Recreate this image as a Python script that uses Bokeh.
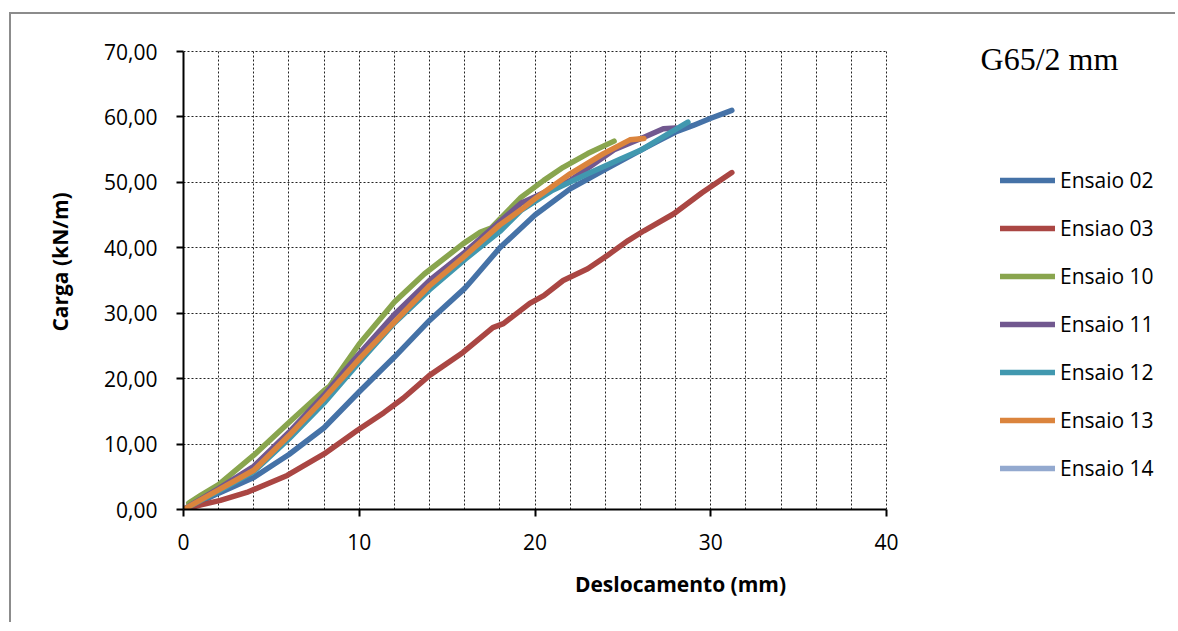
from bokeh.plotting import figure
from bokeh.models import Range1d, FixedTicker, Legend, LegendItem, Label, Grid
from bokeh.embed import file_html
from bokeh.resources import INLINE

# ---- data ----
series_names = ["Ensaio 02", "Ensiao 03", "Ensaio 10", "Ensaio 11", "Ensaio 12", "Ensaio 13", "Ensaio 14"]

ens02_x = [0, 1, 2, 4, 6, 8, 10, 12, 14, 16, 16.4, 18, 20, 22, 24, 26, 27, 28, 29, 30, 31.2]
ens02_y = [0, 1.2, 2.5, 4.9, 8.4, 12.5, 18.0, 23.3, 28.9, 33.8, 35.0, 40.0, 45.0, 49.0, 52.0, 54.9, 56.3, 57.7, 58.7, 59.8, 61.0]

ens03_x = [0, 1, 2.1, 3.6, 5.9, 8, 9.9, 11.4, 12.5, 14, 15.9, 17.6, 18.2, 19.7, 20.5, 21.6, 23, 24.1, 25.3, 26.2, 27.9, 29.5, 31.2]
ens03_y = [0, 0.7, 1.4, 2.6, 5.2, 8.5, 12.1, 14.8, 17.0, 20.5, 24.0, 27.8, 28.4, 31.5, 32.7, 35.0, 36.8, 38.8, 41.1, 42.6, 45.2, 48.4, 51.5]

ens10_x = [0.3, 1, 2, 4, 6, 8, 8.3, 10, 12, 13.7, 15.9, 16.9, 17.5, 19.2, 20.5, 21.6, 23, 24.5]
ens10_y = [1.0, 2.2, 3.8, 8.3, 13.3, 18.2, 18.8, 25.3, 31.7, 36.0, 40.6, 42.4, 43.0, 47.7, 50.3, 52.3, 54.4, 56.3]

ens11_x = [0, 2, 4, 6, 8, 10, 12, 14, 16, 18, 19.2, 22, 24.5, 26.2, 27.3, 28]
ens11_y = [0, 3.2, 6.6, 11.8, 17.5, 23.8, 29.8, 35.0, 39.3, 44.0, 46.8, 50.3, 55.0, 56.9, 58.2, 58.3]

ens12_x = [0, 2, 4, 6, 8, 10, 12, 14, 16, 18, 19.2, 21, 23, 24.9, 26, 27, 28.7]
ens12_y = [0, 2.8, 5.8, 10.8, 16.3, 22.5, 28.5, 33.6, 38.2, 42.5, 45.7, 48.8, 51.3, 53.6, 54.9, 56.5, 59.2]

ens13_x = [0, 2, 4, 6, 8, 10.1, 12.2, 14, 15.9, 18, 19.2, 20.1, 22, 23.9, 25.4, 26.2]
ens13_y = [0, 3.0, 6.0, 11.3, 17.0, 23.3, 29.2, 34.2, 38.5, 43.5, 45.8, 47.7, 51.3, 54.4, 56.5, 56.7]

# Ensaio 14 shows only in the legend (no visible curve in the reference)
ens14_x = [float("nan")]
ens14_y = [float("nan")]

x_ticks = [0, 10, 20, 30, 40]
y_ticks = [0, 10, 20, 30, 40, 50, 60, 70]
y_tick_labels = ["0,00", "10,00", "20,00", "30,00", "40,00", "50,00", "60,00", "70,00"]
x_grid_ticks = list(range(2, 41, 2))
x_limits = (0, 40)
y_limits = (0, 70)

colors = ["#4572A7", "#AA4643", "#89A54E", "#71588F", "#4198AF", "#DB843D", "#93A9CF"]

xs = [ens02_x, ens03_x, ens10_x, ens11_x, ens12_x, ens13_x, ens14_x]
ys = [ens02_y, ens03_y, ens10_y, ens11_y, ens12_y, ens13_y, ens14_y]

FONT = "Open Sans"

W, H = 1166, 610
LB, BB = 172, 115                      # left / bottom borders (px)
px_per_x = 703 / 40.0
px_per_y = 458 / 70.0
x_max = (W - LB) / px_per_x            # frame continues to the right edge (legend area)
y_max = (H - BB) / px_per_y            # frame continues to the top (title area)

p = figure(width=W, height=H, output_backend="svg", toolbar_location=None,
           x_range=Range1d(0, x_max), y_range=Range1d(0, y_max),
           min_border_left=LB, min_border_right=0, min_border_top=0, min_border_bottom=BB)
p.margin = (12, 0, 0, 9)
p.styles = {"border-top": "2px solid #8c8c8c", "border-left": "2px solid #8c8c8c"}
p.outline_line_color = None
p.background_fill_color = "white"
p.border_fill_color = "white"

# grid
p.xgrid.ticker = FixedTicker(ticks=x_grid_ticks)
p.ygrid.ticker = FixedTicker(ticks=y_ticks)
p.xgrid.bounds = x_limits
p.ygrid.bounds = y_limits
has_cross = "cross_bounds" in Grid.properties()
if has_cross:
    p.xgrid.cross_bounds = y_limits
    p.ygrid.cross_bounds = x_limits
for g in (p.xgrid, p.ygrid):
    g.grid_line_color = "#222222"
    g.grid_line_dash = "2 2"
    g.grid_line_width = 1
if not has_cross:
    for g in (p.xgrid, p.ygrid):
        g.grid_line_color = None
    p.segment(x0=x_grid_ticks, x1=x_grid_ticks, y0=[y_limits[0]] * len(x_grid_ticks),
              y1=[y_limits[1]] * len(x_grid_ticks), line_color="#222222", line_dash="2 2", line_width=1)
    p.segment(x0=[x_limits[0]] * len(y_ticks), x1=[x_limits[1]] * len(y_ticks), y0=y_ticks,
              y1=y_ticks, line_color="#222222", line_dash="2 2", line_width=1)

# axes
p.xaxis.ticker = FixedTicker(ticks=x_ticks)
p.yaxis.ticker = FixedTicker(ticks=y_ticks)
p.xaxis.bounds = x_limits
p.yaxis.bounds = y_limits
p.yaxis.major_label_overrides = {t: l for t, l in zip(y_ticks, y_tick_labels)}
for ax in (p.xaxis, p.yaxis):
    ax.axis_line_color = "black"
    ax.axis_line_width = 2
    ax.major_tick_line_color = "black"
    ax.major_tick_line_width = 2
    ax.major_tick_out = 7
    ax.major_tick_in = 0
    ax.minor_tick_line_color = None
    ax.major_label_text_font = FONT
    ax.major_label_text_font_size = "21px"
    ax.major_label_text_color = "black"
    ax.axis_label_text_font = FONT
    ax.axis_label_text_font_size = "21px"
    ax.axis_label_text_font_style = "bold"
    ax.axis_label_text_color = "black"
p.xaxis.axis_label = "Deslocamento (mm)"
p.yaxis.axis_label = "Carga (kN/m)"
p.xaxis.major_label_standoff = 17
p.yaxis.major_label_standoff = 19
p.xaxis.axis_label_standoff = 17
p.yaxis.axis_label_standoff = 27

items = []
for name, c, x, y in zip(series_names, colors, xs, ys):
    r = p.line(x=x, y=y, line_color=c, line_width=5.5, line_cap="round", line_join="round")
    items.append(LegendItem(label=name, renderers=[r]))

legend = Legend(items=items, location=(817, 27), orientation="vertical",
                padding=0, margin=0, spacing=20, glyph_width=55, glyph_height=20,
                label_height=20, label_standoff=5,
                label_text_font=FONT, label_text_font_size="21px", label_text_color="black",
                border_line_color=None, background_fill_alpha=0)
p.add_layout(legend, "center")

title = Label(x=45.35, y=68.8, text="G65/2 mm", text_font="Liberation Serif",
              text_font_size="32px", text_color="black", text_baseline="alphabetic")
p.add_layout(title)

open("out.html", "w").write(file_html(p, INLINE))
